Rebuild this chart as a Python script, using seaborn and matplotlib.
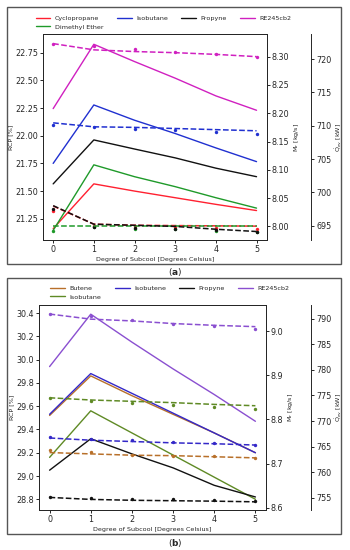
import matplotlib
matplotlib.use("Agg")
import matplotlib.pyplot as plt
import seaborn as sns
from matplotlib.lines import Line2D
from matplotlib.patches import Rectangle
from matplotlib.ticker import FormatStrFormatter

sns.set_style("ticks")
plt.rcParams["font.family"] = ["DejaVu Sans"]
plt.rcParams["font.size"] = 5.8
plt.rcParams["mathtext.default"] = "regular"

subcool = [0, 1, 2, 3, 4, 5]

# panel (a)
fluids_a = ["Cyclopropane", "Dimethyl Ether", "Isobutane", "Propyne", "RE245cb2"]
colors_a = ["#ff2030", "#1f9a2a", "#2030d0", "#111111", "#d020c0"]
rcp_a = [
    [21.16, 21.565, 21.50, 21.44, 21.38, 21.324],
    [21.145, 21.737, 21.63, 21.54, 21.44, 21.346],
    [21.75, 22.278, 22.14, 22.02, 21.89, 21.766],
    [21.565, 21.962, 21.88, 21.80, 21.707, 21.63],
    [22.245, 22.826, 22.67, 22.52, 22.36, 22.23],
]
mr_fit_a = [
    [8.036, 8.004, 8.002, 8.0015, 8.001, 8.0005],
    [8.0015, 8.0015, 8.0015, 8.0015, 8.0015, 8.0015],
    [8.183, 8.176, 8.175, 8.173, 8.171, 8.169],
    [8.0367, 8.0039, 8.002, 8.000, 7.995, 7.991],
    [8.323, 8.312, 8.309, 8.307, 8.304, 8.300],
]
mr_pts_a = [
    [8.028, 8.001, 8.000, 7.999, 7.997, 7.996],
    [7.9926, 7.9986, 7.996, 7.995, 7.9926, 7.991],
    [8.179, 8.176, 8.173, 8.171, 8.167, 8.163],
    [8.031, 7.999, 7.997, 7.996, 7.993, 7.991],
    [8.323, 8.319, 8.314, 8.309, 8.304, 8.300],
]

# panel (b)
fluids_b = ["Butene", "Isobutane", "Isobutene", "Propyne", "RE245cb2"]
colors_b = ["#b8702a", "#5f8a25", "#3428c8", "#111111", "#8a4fd0"]
rcp_b = [
    [29.52, 29.86, 29.69, 29.53, 29.37, 29.20],
    [29.16, 29.56, 29.37, 29.18, 28.99, 28.80],
    [29.53, 29.88, 29.71, 29.54, 29.37, 29.20],
    [29.05, 29.32, 29.19, 29.07, 28.92, 28.82],
    [29.94, 30.39, 30.15, 29.92, 29.70, 29.47],
]
mr_fit_b = [
    [8.725, 8.722, 8.719, 8.718, 8.7155, 8.713],
    [8.849, 8.844, 8.841, 8.838, 8.834, 8.831],
    [8.758, 8.753, 8.750, 8.747, 8.745, 8.742],
    [8.6235, 8.619, 8.617, 8.616, 8.615, 8.6135],
    [9.0385, 9.027, 9.023, 9.017, 9.013, 9.010],
]
mr_pts_b = [
    [8.731, 8.727, 8.720, 8.718, 8.717, 8.713],
    [8.848, 8.8415, 8.838, 8.833, 8.829, 8.823],
    [8.760, 8.755, 8.7525, 8.749, 8.746, 8.743],
    [8.625, 8.623, 8.620, 8.619, 8.617, 8.616],
    [9.0385, 9.034, 9.024, 9.017, 9.011, 9.004],
]

W, H = 350, 550
LAB = 4.6
fig = plt.figure(figsize=(3.5, 5.5), dpi=100)


def px_rect(x0, y0, x1, y1):
    return [x0 / W, 1 - y1 / H, (x1 - x0) / W, (y1 - y0) / H]


def draw_panel(rect, fluids, colors, rcp, mr_fit, mr_pts,
               rcp_lim, rcp_ticks, rcp_fmt, mr_lim, mr_ticks, mr_fmt,
               q_lim, q_ticks, leg_xy):
    ax = fig.add_axes(rect)
    ax2 = ax.twinx()
    ax3 = ax.twinx()
    ax3.spines["right"].set_position(("axes", 1.2))
    for sp in ["top", "bottom", "left"]:
        ax3.spines[sp].set_visible(False)

    for name, c, r, f, p in zip(fluids, colors, rcp, mr_fit, mr_pts):
        sns.lineplot(x=subcool, y=r, color=c, lw=1.0, ax=ax)
        sns.lineplot(x=subcool, y=f, color=c, lw=1.1, linestyle="--", ax=ax2)
        sns.scatterplot(x=subcool, y=p, color=c, s=6, linewidth=0, ax=ax2)

    ax.set_xlim(-0.25, 5.25)
    ax.set_xticks(subcool)
    ax.set_ylim(*rcp_lim)
    ax.set_yticks(rcp_ticks)
    ax.yaxis.set_major_formatter(FormatStrFormatter(rcp_fmt))
    ax2.set_ylim(*mr_lim)
    ax2.set_yticks(mr_ticks)
    ax2.yaxis.set_major_formatter(FormatStrFormatter(mr_fmt))
    ax3.set_ylim(*q_lim)
    ax3.set_yticks(q_ticks)

    ax.set_xlabel("Degree of Subcool [Degrees Celsius]", fontsize=LAB, labelpad=2)
    ax.set_ylabel("RCP [%]", fontsize=LAB, labelpad=1.5)
    ax2.set_ylabel("M$_r$ [kg/s]", fontsize=LAB, labelpad=2)
    ax3.set_ylabel(r"$\dot{Q}_{ev}$ [kW]", fontsize=LAB, labelpad=1.5)
    for a in (ax, ax2, ax3):
        a.tick_params(labelsize=5.8, length=2.4, width=0.7, pad=1.2)
        for sp in a.spines.values():
            sp.set_linewidth(0.7)

    handles = [Line2D([], [], color=c, lw=1.0) for c in colors]
    fig.legend(handles, fluids, ncol=4, loc="center", bbox_to_anchor=leg_xy,
               frameon=False, fontsize=LAB, handlelength=2.3,
               handletextpad=0.7, columnspacing=2.1, labelspacing=0.5)


draw_panel(px_rect(43, 34, 266.7, 240), fluids_a, colors_a, rcp_a, mr_fit_a, mr_pts_a,
           (21.058, 22.919), [21.25, 21.5, 21.75, 22.0, 22.25, 22.5, 22.75], "%.2f",
           (7.976, 8.340), [8.00, 8.05, 8.10, 8.15, 8.20, 8.25, 8.30], "%.2f",
           (692.85, 723.75), [695, 700, 705, 710, 715, 720],
           (163.5 / W, 1 - 22.5 / H))

draw_panel(px_rect(39.3, 305, 265.7, 510), fluids_b, colors_b, rcp_b, mr_fit_b, mr_pts_b,
           (28.708, 30.469), [28.8, 29.0, 29.2, 29.4, 29.6, 29.8, 30.0, 30.2, 30.4], "%.1f",
           (8.595, 9.059), [8.6, 8.7, 8.8, 8.9, 9.0], "%.1f",
           (752.6, 792.7), [755, 760, 765, 770, 775, 780, 785, 790],
           (170 / W, 1 - 292.5 / H))

# panel frames and captions
for y0, y1 in [(7, 264), (278, 534)]:
    fig.patches.append(Rectangle((7 / W, 1 - y1 / H), 334 / W, (y1 - y0) / H,
                                 transform=fig.transFigure, fill=False,
                                 edgecolor="#555555", lw=1.0))
fig.text(175 / W, 1 - 272 / H, r"($\mathbf{a}$)", ha="center", va="center", fontsize=6.5)
fig.text(175 / W, 1 - 543 / H, r"($\mathbf{b}$)", ha="center", va="center", fontsize=6.5)

fig.savefig("out.png", dpi=100)
